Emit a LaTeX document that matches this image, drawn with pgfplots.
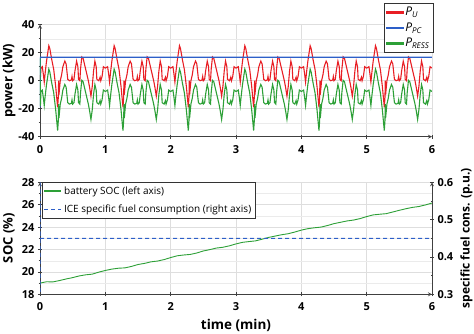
\documentclass[border=0pt]{standalone}
\usepackage{pgfplots}
\pgfplotsset{compat=1.18}
\usepackage{pgfplotstable}
\usepackage{fontspec}
\setmainfont{Open Sans}
\definecolor{cRed}{RGB}{232,30,36}
\definecolor{cBlue}{RGB}{45,95,200}
\definecolor{cGreen}{RGB}{45,160,55}
\definecolor{gridc}{RGB}{222,222,222}

\pgfplotstableread[row sep=\\]{
t pu pr\\
0.000 0.0 16.0\\ 0.006 2.0 -18.0\\ 0.015 9.0 -7.7\\
0.035 10.0 -6.7\\ 0.050 5.0 -11.7\\ 0.065 -1.0 -17.7\\ 0.080 6.0 -10.7\\ 0.100 14.0 -2.7\\
0.135 25.0 8.3\\ 0.150 23.0 6.3\\ 0.180 15.0 -1.7\\ 0.210 8.0 -8.7\\ 0.240 -4.0 -20.7\\
0.270 -19.0 -35.7\\ 0.280 -12.0 -28.7\\ 0.285 0.0 -16.7\\ 0.290 -10.0 -26.7\\ 0.300 -5.0 -21.7\\
0.310 0.0 -16.7\\ 0.330 4.0 -12.7\\ 0.350 10.0 -6.7\\ 0.380 14.0 -2.7\\ 0.400 12.0 -4.7\\
0.425 1.0 -15.7\\ 0.450 0.0 -16.7\\ 0.480 0.5 -16.2\\ 0.490 3.0 -13.7\\ 0.500 0.0 -16.7\\
0.520 1.0 -15.7\\ 0.535 7.0 -9.7\\ 0.560 14.0 -2.7\\ 0.580 10.0 -6.7\\ 0.590 1.0 -15.7\\
0.610 0.0 -16.7\\ 0.620 8.0 -8.7\\ 0.640 17.0 0.3\\ 0.660 16.0 -0.7\\ 0.700 8.0 -8.7\\
0.740 0.0 -16.7\\ 0.760 -5.0 -21.7\\ 0.780 -11.0 -27.7\\ 0.800 -4.0 -20.7\\ 0.820 7.0 -9.7\\
0.840 14.0 -2.7\\ 0.860 10.0 -6.7\\ 0.870 1.0 -15.7\\ 0.900 0.0 -16.7\\ 0.920 2.5 -14.2\\
0.930 0.0 -16.7\\ 0.950 3.0 -13.7\\ 0.970 10.0 -6.7\\
1.000 9.0 -7.7\\
1.035 10.0 -6.7\\ 1.050 5.0 -11.7\\ 1.065 -1.0 -17.7\\ 1.080 6.0 -10.7\\ 1.100 14.0 -2.7\\
1.135 25.0 8.3\\ 1.150 23.0 6.3\\ 1.180 15.0 -1.7\\ 1.210 8.0 -8.7\\ 1.240 -4.0 -20.7\\
1.270 -19.0 -35.7\\ 1.280 -12.0 -28.7\\ 1.285 0.0 -16.7\\ 1.290 -10.0 -26.7\\ 1.300 -5.0 -21.7\\
1.310 0.0 -16.7\\ 1.330 4.0 -12.7\\ 1.350 10.0 -6.7\\ 1.380 14.0 -2.7\\ 1.400 12.0 -4.7\\
1.425 1.0 -15.7\\ 1.450 0.0 -16.7\\ 1.480 0.5 -16.2\\ 1.490 3.0 -13.7\\ 1.500 0.0 -16.7\\
1.520 1.0 -15.7\\ 1.535 7.0 -9.7\\ 1.560 14.0 -2.7\\ 1.580 10.0 -6.7\\ 1.590 1.0 -15.7\\
1.610 0.0 -16.7\\ 1.620 8.0 -8.7\\ 1.640 17.0 0.3\\ 1.660 16.0 -0.7\\ 1.700 8.0 -8.7\\
1.740 0.0 -16.7\\ 1.760 -5.0 -21.7\\ 1.780 -11.0 -27.7\\ 1.800 -4.0 -20.7\\ 1.820 7.0 -9.7\\
1.840 14.0 -2.7\\ 1.860 10.0 -6.7\\ 1.870 1.0 -15.7\\ 1.900 0.0 -16.7\\ 1.920 2.5 -14.2\\
1.930 0.0 -16.7\\ 1.950 3.0 -13.7\\ 1.970 10.0 -6.7\\
2.000 9.0 -7.7\\
2.035 10.0 -6.7\\ 2.050 5.0 -11.7\\ 2.065 -1.0 -17.7\\ 2.080 6.0 -10.7\\ 2.100 14.0 -2.7\\
2.135 25.0 8.3\\ 2.150 23.0 6.3\\ 2.180 15.0 -1.7\\ 2.210 8.0 -8.7\\ 2.240 -4.0 -20.7\\
2.270 -19.0 -35.7\\ 2.280 -12.0 -28.7\\ 2.285 0.0 -16.7\\ 2.290 -10.0 -26.7\\ 2.300 -5.0 -21.7\\
2.310 0.0 -16.7\\ 2.330 4.0 -12.7\\ 2.350 10.0 -6.7\\ 2.380 14.0 -2.7\\ 2.400 12.0 -4.7\\
2.425 1.0 -15.7\\ 2.450 0.0 -16.7\\ 2.480 0.5 -16.2\\ 2.490 3.0 -13.7\\ 2.500 0.0 -16.7\\
2.520 1.0 -15.7\\ 2.535 7.0 -9.7\\ 2.560 14.0 -2.7\\ 2.580 10.0 -6.7\\ 2.590 1.0 -15.7\\
2.610 0.0 -16.7\\ 2.620 8.0 -8.7\\ 2.640 17.0 0.3\\ 2.660 16.0 -0.7\\ 2.700 8.0 -8.7\\
2.740 0.0 -16.7\\ 2.760 -5.0 -21.7\\ 2.780 -11.0 -27.7\\ 2.800 -4.0 -20.7\\ 2.820 7.0 -9.7\\
2.840 14.0 -2.7\\ 2.860 10.0 -6.7\\ 2.870 1.0 -15.7\\ 2.900 0.0 -16.7\\ 2.920 2.5 -14.2\\
2.930 0.0 -16.7\\ 2.950 3.0 -13.7\\ 2.970 10.0 -6.7\\
3.000 9.0 -7.7\\
3.035 10.0 -6.7\\ 3.050 5.0 -11.7\\ 3.065 -1.0 -17.7\\ 3.080 6.0 -10.7\\ 3.100 14.0 -2.7\\
3.135 25.0 8.3\\ 3.150 23.0 6.3\\ 3.180 15.0 -1.7\\ 3.210 8.0 -8.7\\ 3.240 -4.0 -20.7\\
3.270 -19.0 -35.7\\ 3.280 -12.0 -28.7\\ 3.285 0.0 -16.7\\ 3.290 -10.0 -26.7\\ 3.300 -5.0 -21.7\\
3.310 0.0 -16.7\\ 3.330 4.0 -12.7\\ 3.350 10.0 -6.7\\ 3.380 14.0 -2.7\\ 3.400 12.0 -4.7\\
3.425 1.0 -15.7\\ 3.450 0.0 -16.7\\ 3.480 0.5 -16.2\\ 3.490 3.0 -13.7\\ 3.500 0.0 -16.7\\
3.520 1.0 -15.7\\ 3.535 7.0 -9.7\\ 3.560 14.0 -2.7\\ 3.580 10.0 -6.7\\ 3.590 1.0 -15.7\\
3.610 0.0 -16.7\\ 3.620 8.0 -8.7\\ 3.640 17.0 0.3\\ 3.660 16.0 -0.7\\ 3.700 8.0 -8.7\\
3.740 0.0 -16.7\\ 3.760 -5.0 -21.7\\ 3.780 -11.0 -27.7\\ 3.800 -4.0 -20.7\\ 3.820 7.0 -9.7\\
3.840 14.0 -2.7\\ 3.860 10.0 -6.7\\ 3.870 1.0 -15.7\\ 3.900 0.0 -16.7\\ 3.920 2.5 -14.2\\
3.930 0.0 -16.7\\ 3.950 3.0 -13.7\\ 3.970 10.0 -6.7\\
4.000 9.0 -7.7\\
4.035 10.0 -6.7\\ 4.050 5.0 -11.7\\ 4.065 -1.0 -17.7\\ 4.080 6.0 -10.7\\ 4.100 14.0 -2.7\\
4.135 25.0 8.3\\ 4.150 23.0 6.3\\ 4.180 15.0 -1.7\\ 4.210 8.0 -8.7\\ 4.240 -4.0 -20.7\\
4.270 -19.0 -35.7\\ 4.280 -12.0 -28.7\\ 4.285 0.0 -16.7\\ 4.290 -10.0 -26.7\\ 4.300 -5.0 -21.7\\
4.310 0.0 -16.7\\ 4.330 4.0 -12.7\\ 4.350 10.0 -6.7\\ 4.380 14.0 -2.7\\ 4.400 12.0 -4.7\\
4.425 1.0 -15.7\\ 4.450 0.0 -16.7\\ 4.480 0.5 -16.2\\ 4.490 3.0 -13.7\\ 4.500 0.0 -16.7\\
4.520 1.0 -15.7\\ 4.535 7.0 -9.7\\ 4.560 14.0 -2.7\\ 4.580 10.0 -6.7\\ 4.590 1.0 -15.7\\
4.610 0.0 -16.7\\ 4.620 8.0 -8.7\\ 4.640 17.0 0.3\\ 4.660 16.0 -0.7\\ 4.700 8.0 -8.7\\
4.740 0.0 -16.7\\ 4.760 -5.0 -21.7\\ 4.780 -11.0 -27.7\\ 4.800 -4.0 -20.7\\ 4.820 7.0 -9.7\\
4.840 14.0 -2.7\\ 4.860 10.0 -6.7\\ 4.870 1.0 -15.7\\ 4.900 0.0 -16.7\\ 4.920 2.5 -14.2\\
4.930 0.0 -16.7\\ 4.950 3.0 -13.7\\ 4.970 10.0 -6.7\\
5.000 9.0 -7.7\\
5.035 10.0 -6.7\\ 5.050 5.0 -11.7\\ 5.065 -1.0 -17.7\\ 5.080 6.0 -10.7\\ 5.100 14.0 -2.7\\
5.135 25.0 8.3\\ 5.150 23.0 6.3\\ 5.180 15.0 -1.7\\ 5.210 8.0 -8.7\\ 5.240 -4.0 -20.7\\
5.270 -19.0 -35.7\\ 5.280 -12.0 -28.7\\ 5.285 0.0 -16.7\\ 5.290 -10.0 -26.7\\ 5.300 -5.0 -21.7\\
5.310 0.0 -16.7\\ 5.330 4.0 -12.7\\ 5.350 10.0 -6.7\\ 5.380 14.0 -2.7\\ 5.400 12.0 -4.7\\
5.425 1.0 -15.7\\ 5.450 0.0 -16.7\\ 5.480 0.5 -16.2\\ 5.490 3.0 -13.7\\ 5.500 0.0 -16.7\\
5.520 1.0 -15.7\\ 5.535 7.0 -9.7\\ 5.560 14.0 -2.7\\ 5.580 10.0 -6.7\\ 5.590 1.0 -15.7\\
5.610 0.0 -16.7\\ 5.620 8.0 -8.7\\ 5.640 17.0 0.3\\ 5.660 16.0 -0.7\\ 5.700 8.0 -8.7\\
5.740 0.0 -16.7\\ 5.760 -5.0 -21.7\\ 5.780 -11.0 -27.7\\ 5.800 -4.0 -20.7\\ 5.820 7.0 -9.7\\
5.840 14.0 -2.7\\ 5.860 10.0 -6.7\\ 5.870 1.0 -15.7\\ 5.900 0.0 -16.7\\ 5.920 2.5 -14.2\\
5.930 0.0 -16.7\\ 5.950 3.0 -13.7\\ 5.970 10.0 -6.7\\
6.000 9.0 -7.7\\
}\powertab

\pgfplotstableread[row sep=\\]{
t soc\\
0.0 19.00\\ 0.1 19.12\\ 0.2 19.11\\ 0.3 19.23\\ 0.4 19.37\\ 0.5 19.49\\ 0.6 19.64\\ 0.7 19.74\\ 0.8 19.80\\ 0.9 19.98\\
1.0 20.13\\ 1.1 20.25\\ 1.2 20.33\\ 1.3 20.36\\ 1.4 20.49\\ 1.5 20.66\\ 1.6 20.76\\ 1.7 20.90\\ 1.8 20.97\\ 1.9 21.10\\
2.0 21.28\\ 2.1 21.44\\ 2.2 21.51\\ 2.3 21.56\\ 2.4 21.69\\ 2.5 21.87\\ 2.6 21.99\\ 2.7 22.13\\ 2.8 22.20\\ 2.9 22.33\\
3.0 22.50\\ 3.1 22.64\\ 3.2 22.71\\ 3.3 22.77\\ 3.4 22.92\\ 3.5 23.08\\ 3.6 23.20\\ 3.7 23.32\\ 3.8 23.41\\ 3.9 23.56\\
4.0 23.73\\ 4.1 23.86\\ 4.2 23.94\\ 4.3 24.00\\ 4.4 24.14\\ 4.5 24.31\\ 4.6 24.43\\ 4.7 24.55\\ 4.8 24.63\\ 4.9 24.76\\
5.0 24.94\\ 5.1 25.09\\ 5.2 25.15\\ 5.3 25.20\\ 5.4 25.35\\ 5.5 25.50\\ 5.6 25.64\\ 5.7 25.76\\ 5.8 25.84\\ 5.9 25.98\\
6.0 26.15\\
}\soctab

\pgfplotsset{
  base/.style={
    scale only axis, width=392pt, height=112pt,
    xmin=0, xmax=6, xtick={0,1,...,6},
    tick align=outside,
    major tick length=4pt, minor tick length=2.5pt,
    tick style={black!75, line width=0.6pt},
    axis line style={-, black!75, line width=0.8pt},
    tick label style={font=\fontsize{11}{12}\selectfont\bfseries},
    xticklabel style={yshift=-3pt},
    xlabel style={font=\fontsize{13.5}{15}\selectfont\bfseries, yshift=-1pt},
    ylabel style={font=\fontsize{13}{15}\selectfont\bfseries},
    /pgf/number format/assume math mode=true,
    grid=both,
    major grid style={gridc, line width=0.5pt},
    minor grid style={gridc!60, line width=0.4pt},
  },
  barimg/.style={legend image code/.code={\fill[#1] (0pt,-0.75pt) rectangle (17pt,0.75pt);}},
}

\begin{document}
\begin{tikzpicture}
\begin{axis}[base, at={(0pt,0pt)}, anchor=south west,
  axis lines=left,
  ymin=-40, ymax=40, ytick={-40,-20,...,40}, minor y tick num=1,
  ylabel={power (kW)},
  ylabel style={at={(axis description cs:-0.079,0.5)}, anchor=center},
  legend style={at={(1.003,1.19)}, anchor=north east, draw=black!80, fill=white,
    font=\fontsize{12}{13}\selectfont, legend cell align=left,
    inner sep=1.5pt, row sep=1.5pt},
]
\addplot[forget plot, draw=cRed, line width=1.1pt] table[x=t, y=pu]{\powertab};
\addplot[forget plot, draw=cBlue, line width=1.3pt] coordinates {(0,-19) (0.004,16.7) (6,16.7)};
\addplot[forget plot, draw=cGreen, line width=1.1pt] table[x=t, y=pr]{\powertab};
\addlegendimage{barimg=cRed}
\addlegendentry{\textit{P}\textsubscript{\textit{U}}}
\addlegendimage{barimg=cBlue}
\addlegendentry{\textit{P}\textsubscript{\textit{PC}}}
\addlegendimage{barimg=cGreen}
\addlegendentry{\textit{P}\textsubscript{\textit{RESS}}}
\end{axis}

\begin{axis}[base, at={(0pt,-157.6pt)}, anchor=south west,
  axis lines=left,
  ymin=18, ymax=28, ytick={18,20,...,28}, minor y tick num=1,
  ylabel={SOC (\%)}, xlabel={time (min)},
  ylabel style={at={(axis description cs:-0.079,0.5)}, anchor=center},
  legend style={at={(0.004,1)}, anchor=north west, draw=black!80,
    font=\fontsize{10}{11}\selectfont, legend cell align=left,
    inner sep=2pt, row sep=5pt},
]
\addplot[draw=cGreen, line width=0.9pt, forget plot] table[x=t, y=soc]{\soctab};
\addlegendimage{color=cGreen, line width=1.3pt}
\addlegendentry{battery SOC (left axis)}
\addlegendimage{color=cBlue, line width=1.2pt, dash pattern=on 4pt off 3pt}
\addlegendentry{ICE specific fuel consumption (right axis)}
\end{axis}

\begin{axis}[base, grid=none, at={(0pt,-157.6pt)}, anchor=south west,
  axis x line=none, axis y line=right,
  ymin=0.3, ymax=0.6, ytick={0.3,0.4,0.5,0.6}, minor y tick num=1,
  yticklabel style={/pgf/number format/fixed, /pgf/number format/precision=1, /pgf/number format/fixed zerofill},
  ylabel={specific fuel cons. (p.u.)},
  ylabel style={at={(axis description cs:1.088,0.5)}, anchor=center, font=\fontsize{12}{14}\selectfont\bfseries},
]
\addplot[draw=cBlue, line width=1.1pt, dash pattern=on 4pt off 3pt] coordinates {(0,0.25) (0,0.65) (0.001,0.45) (6,0.45)};
\end{axis}
\pgfresetboundingbox
\path (-40pt,-196.3pt) rectangle (434pt,136.7pt);
\end{tikzpicture}
\end{document}
